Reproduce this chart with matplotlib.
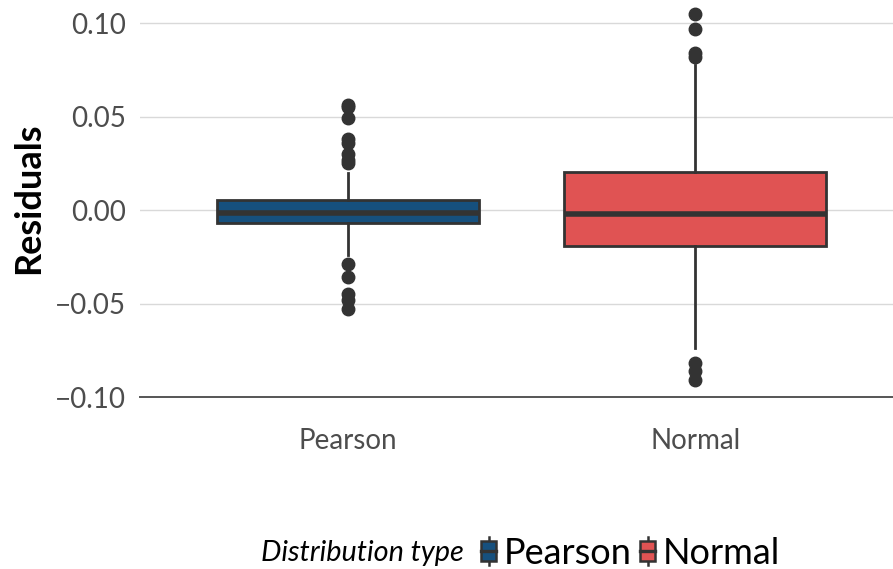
# Residuals boxplot: Pearson vs Normal distribution fit
import matplotlib
matplotlib.use('Agg')
import matplotlib.pyplot as plt
from matplotlib.patches import Rectangle, Patch
from matplotlib.lines import Line2D
from matplotlib.legend_handler import HandlerBase

# values
categories = ['Pearson', 'Normal']
colors = ['#16507e', '#e05353']
q1 = [-0.0070, -0.0193]
medians = [-0.0016, -0.0021]
q3 = [0.0053, 0.0203]
whisker_lo = [-0.0240, -0.0738]
whisker_hi = [0.0198, 0.0775]
outliers = [
    [0.056, 0.055, 0.049, 0.038, 0.036, 0.030, 0.027, 0.025,
     -0.029, -0.036, -0.045, -0.048, -0.053],
    [0.105, 0.097, 0.084, 0.082, -0.082, -0.086, -0.091],
]
yticks = [-0.10, -0.05, 0.00, 0.05, 0.10]

dark = '#333333'
plt.rcParams['font.family'] = 'Lato'

fig = plt.figure(figsize=(8.93, 5.69), dpi=100)
ax = fig.add_axes([140 / 893, 172 / 569, 753 / 893, 397 / 569])

stats = []
for i, name in enumerate(categories):
    stats.append(dict(label=name, q1=q1[i], med=medians[i], q3=q3[i],
                      whislo=whisker_lo[i], whishi=whisker_hi[i],
                      fliers=outliers[i]))

bp = ax.bxp(stats, positions=[0, 1], widths=0.755, patch_artist=True,
            showcaps=False,
            boxprops=dict(edgecolor=dark, linewidth=2.0),
            medianprops=dict(color=dark, linewidth=4.0, solid_capstyle='butt'),
            whiskerprops=dict(color=dark, linewidth=2.0),
            flierprops=dict(marker='o', markerfacecolor=dark, markeredgecolor=dark,
                            markersize=9, linestyle='none'))
for patch, c in zip(bp['boxes'], colors):
    patch.set_facecolor(c)

ax.set_xlim(-0.6, 1.57)
ax.set_ylim(-0.10, 0.1123)
ax.set_yticks(yticks)
ax.set_yticklabels(['\u22120.10', '\u22120.05', '0.00', '0.05', '0.10'])
ax.grid(axis='y', color='#d9d9d9', linewidth=1.0)
ax.set_axisbelow(True)
for side in ['top', 'right', 'left']:
    ax.spines[side].set_visible(False)
ax.spines['bottom'].set_color('#555555')
ax.spines['bottom'].set_linewidth(1.4)
ax.tick_params(axis='both', length=0, labelsize=20, labelcolor='#4d4d4d')
ax.tick_params(axis='y', pad=10)
ax.tick_params(axis='x', pad=22)
ax.set_ylabel('Residuals', fontsize=26, fontweight='bold', color='black', labelpad=7)


class BoxHandler(HandlerBase):
    def create_artists(self, legend, orig_handle, xdescent, ydescent,
                       width, height, fontsize, trans):
        x0, y0 = -xdescent, -ydescent
        wh = Line2D([x0 + width / 2] * 2, [y0 - 0.15 * height, y0 + 1.15 * height],
                    color=dark, lw=1.8, transform=trans)
        rect = Rectangle((x0, y0 + 0.05 * height), width, 0.9 * height,
                         facecolor=orig_handle.get_facecolor(), edgecolor=dark,
                         lw=1.8, transform=trans)
        med = Line2D([x0, x0 + width], [y0 + height / 2] * 2, color=dark,
                     lw=2.4, transform=trans)
        return [wh, rect, med]


handles = [Patch(facecolor=c) for c in colors]
fig.text(464 / 893, 16 / 569, 'Distribution type', ha='right', va='center',
         fontsize=20.8, fontstyle='italic', color='black')
fig.legend(handles, categories, loc='center left', bbox_to_anchor=(481 / 893, 16 / 569),
           ncol=2, frameon=False, fontsize=26, handlelength=0.42, handleheight=0.55,
           handletextpad=0.2, columnspacing=0.25, borderpad=0, borderaxespad=0,
           handler_map={Patch: BoxHandler()})

fig.savefig('out.png', dpi=100)
